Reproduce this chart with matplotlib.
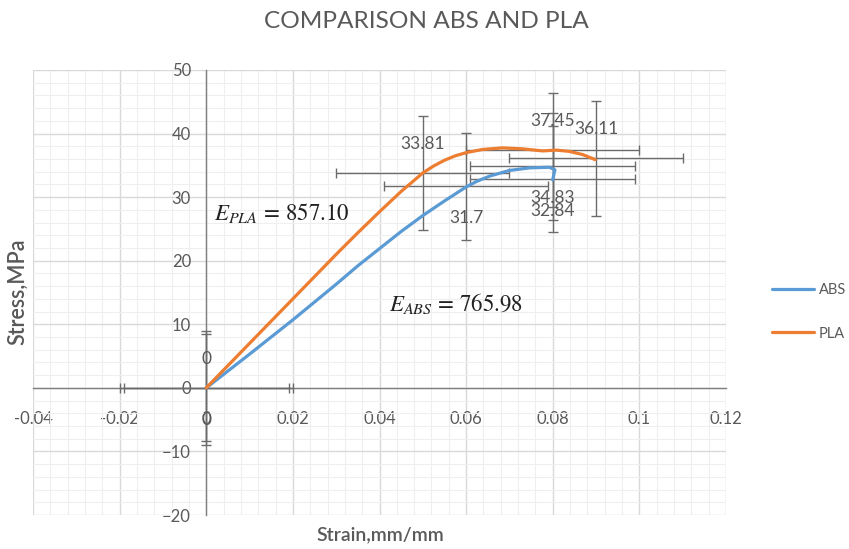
import numpy as np
import matplotlib
matplotlib.use('Agg')
import matplotlib.pyplot as plt
from matplotlib import font_manager
from matplotlib.ticker import MultipleLocator

# curve readings (strain, stress)
pla_strain = [0, 0.01, 0.02, 0.03, 0.035, 0.04, 0.045, 0.05, 0.0525, 0.055, 0.0575,
              0.06, 0.0638, 0.0684, 0.073, 0.0777, 0.0808, 0.0838, 0.0869, 0.0898]
pla_stress = [0, 7.0, 14.0, 21.0, 24.4, 27.7, 30.9, 33.8, 34.9, 35.8, 36.5,
              37.0, 37.5, 37.75, 37.6, 37.27, 37.4, 37.2, 36.7, 35.9]

abs_strain = [0, 0.01, 0.02, 0.03, 0.035, 0.04, 0.045, 0.05, 0.055, 0.06, 0.0625,
              0.0654, 0.07, 0.0746, 0.0792, 0.0805, 0.0802, 0.08]
abs_stress = [0, 5.3, 10.7, 16.3, 19.2, 21.9, 24.6, 27.1, 29.4, 31.6, 32.5,
              33.3, 34.2, 34.6, 34.7, 34.3, 33.4, 32.7]

# points carrying error bars + labels
pla_pts_x = [0, 0.05, 0.08, 0.09]
pla_pts_y = [0, 33.81, 37.45, 36.11]
pla_xerr, pla_yerr = 0.02, 9.0

abs_pts_x = [0, 0.06, 0.08, 0.08]
abs_pts_y = [0, 31.7, 34.83, 32.84]
abs_xerr, abs_yerr = 0.019, 8.4

xticks = [-0.04, -0.02, 0, 0.02, 0.04, 0.06, 0.08, 0.1, 0.12]
xticklabels = ['-0.04', '-0.02', '0', '0.02', '0.04', '0.06', '0.08', '0.1', '0.12']
yticks = [-20, -10, 0, 10, 20, 30, 40, 50]

installed = {f.name for f in font_manager.fontManager.ttflist}
narrow = 'Liberation Sans Narrow' if 'Liberation Sans Narrow' in installed else 'Lato'
plt.rcParams['font.family'] = [narrow, 'DejaVu Sans']
plt.rcParams['mathtext.fontset'] = 'stix'

grey = '#595959'
c_abs = '#5B9BD5'
c_pla = '#ED7D31'

fig = plt.figure(figsize=(8.49, 5.49), dpi=100)
ax = fig.add_axes([33/849, 34/549, 693/849, 445/549])

ax.set_xlim(-0.04, 0.12)
ax.set_ylim(-20, 50)
ax.set_xticks(xticks)
ax.set_xticklabels(xticklabels)
ax.set_yticks(yticks)
ax.xaxis.set_minor_locator(MultipleLocator(0.004))
ax.yaxis.set_minor_locator(MultipleLocator(2))
ax.grid(which='major', color='#d9d9d9', lw=1.0)
ax.grid(which='minor', color='#efefef', lw=0.8)
ax.set_axisbelow(True)

for s in ['top', 'right']:
    ax.spines[s].set_visible(False)
ax.spines['left'].set_position(('data', 0))
ax.spines['bottom'].set_position(('data', 0))
for s in ['left', 'bottom']:
    ax.spines[s].set_color('#7f7f7f')
    ax.spines[s].set_linewidth(1.0)
    ax.spines[s].set_zorder(1.5)
ax.tick_params(which='both', length=0)
ax.tick_params(axis='x', pad=17, labelsize=12, labelcolor=grey)
ax.tick_params(axis='y', pad=11, labelsize=12, labelcolor=grey)

# error bars
ax.errorbar(pla_pts_x, pla_pts_y, xerr=pla_xerr, yerr=pla_yerr, fmt='none',
            ecolor='#6b6b6b', elinewidth=1.0, capsize=3.3, capthick=1.0, zorder=2)
ax.errorbar(abs_pts_x, abs_pts_y, xerr=abs_xerr, yerr=abs_yerr, fmt='none',
            ecolor='#6b6b6b', elinewidth=1.0, capsize=3.3, capthick=1.0, zorder=2)

ax.plot(abs_strain, abs_stress, color=c_abs, lw=2.3, label='ABS', zorder=3,
        solid_capstyle='round', solid_joinstyle='round')
ax.plot(pla_strain, pla_stress, color=c_pla, lw=2.3, label='PLA', zorder=3,
        solid_capstyle='round', solid_joinstyle='round')

# data labels
for x, y in zip(pla_pts_x, pla_pts_y):
    ax.annotate(f'{y:g}', (x, y), xytext=(0, 29), textcoords='offset pixels',
                ha='center', va='center', fontsize=12.5, color=grey, zorder=4)
for x, y in zip(abs_pts_x, abs_pts_y):
    ax.annotate(f'{y:g}', (x, y), xytext=(0, -32), textcoords='offset pixels',
                ha='center', va='center', fontsize=12.5, color=grey, zorder=4)

ax.text(0.00185, 26.46, r'$E_{PLA}\,=\,857.10$', fontsize=16.5, color='#222222',
        ha='left', va='baseline')
ax.text(0.0423, 12.1, r'$E_{ABS}\,=\,765.98$', fontsize=16.5, color='#222222',
        ha='left', va='baseline')

fig.text(0.502, 1 - 22/549, 'COMPARISON ABS AND PLA', ha='center', va='center',
         fontsize=17.6, color=grey)
fig.text(18/849, 1 - 292/549, 'Stress,MPa', rotation=90, ha='center', va='center',
         fontsize=15.5, fontweight='semibold', color=grey)
fig.text(380/849, 1 - 535/549, 'Strain,mm/mm', ha='center', va='center',
         fontsize=14, fontweight='semibold', color=grey)

leg = ax.legend(loc='center left', bbox_to_anchor=(772/849, 1 - 312/549),
                bbox_transform=fig.transFigure, frameon=False, fontsize=10.5,
                handlelength=2.9, handletextpad=0.3, labelspacing=2.0,
                borderpad=0, borderaxespad=0)
for t in leg.get_texts():
    t.set_color(grey)

fig.savefig('out.png', dpi=100)
